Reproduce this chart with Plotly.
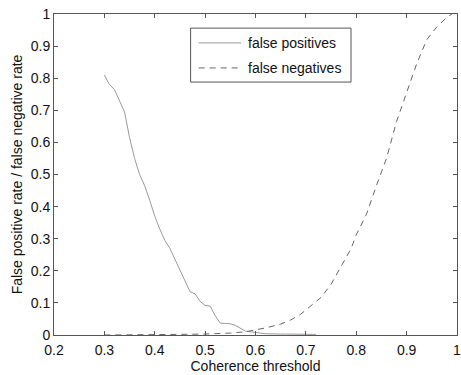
import plotly.graph_objects as go

fp_x = [0.30, 0.31, 0.32, 0.33, 0.34, 0.35, 0.36, 0.37, 0.38, 0.39,
        0.40, 0.41, 0.42, 0.43, 0.44, 0.45, 0.46, 0.47, 0.48, 0.49,
        0.50, 0.51, 0.52, 0.53, 0.54, 0.55, 0.56, 0.57, 0.58, 0.59,
        0.60, 0.61, 0.62, 0.63, 0.64, 0.65, 0.66, 0.67, 0.68, 0.69,
        0.70, 0.71, 0.72]
fp_y = [0.81, 0.78, 0.765, 0.73, 0.695, 0.615, 0.55, 0.50, 0.465, 0.42,
        0.37, 0.33, 0.295, 0.27, 0.235, 0.20, 0.165, 0.135, 0.128, 0.105,
        0.092, 0.09, 0.06, 0.037, 0.036, 0.035, 0.03, 0.02, 0.012, 0.01,
        0.009, 0.006, 0.004, 0.003, 0.003, 0.003, 0.003, 0.003, 0.003, 0.003,
        0.003, 0.002, 0.002]

fn_x = [0.30, 0.35, 0.40, 0.45, 0.50, 0.52, 0.55, 0.58, 0.60, 0.62,
        0.65, 0.67, 0.69, 0.71, 0.73, 0.75, 0.77, 0.79, 0.80, 0.82,
        0.84, 0.86, 0.88, 0.90, 0.92, 0.94, 0.96, 0.98, 0.99]
fn_y = [0.0, 0.0, 0.001, 0.002, 0.003, 0.004, 0.006, 0.01, 0.015, 0.022,
        0.034, 0.047, 0.065, 0.09, 0.117, 0.158, 0.215, 0.27, 0.312, 0.375,
        0.465, 0.55, 0.665, 0.755, 0.845, 0.92, 0.96, 0.99, 1.0]

x_ticks = [0.2, 0.3, 0.4, 0.5, 0.6, 0.7, 0.8, 0.9, 1.0]
x_labels = ["0.2", "0.3", "0.4", "0.5", "0.6", "0.7", "0.8", "0.9", "1"]
y_ticks = [0, 0.1, 0.2, 0.3, 0.4, 0.5, 0.6, 0.7, 0.8, 0.9, 1.0]
y_labels = ["0", "0.1", "0.2", "0.3", "0.4", "0.5", "0.6", "0.7", "0.8", "0.9", "1"]

series_names = ["false positives", "false negatives"]
series_colors = ["#9a9a9a", "#666666"]
series_dash = ["solid", "6px,5px"]

FAM = "Liberation Sans, Arial, sans-serif"
font = dict(family=FAM, size=14, color="#111111")

fig = go.Figure()
fig.add_trace(go.Scatter(x=fp_x, y=fp_y, mode="lines", name=series_names[0],
                         line=dict(color=series_colors[0], width=1, dash=series_dash[0])))
fig.add_trace(go.Scatter(x=fn_x, y=fn_y, mode="lines", name=series_names[1],
                         line=dict(color=series_colors[1], width=1, dash=series_dash[1])))

axis_common = dict(showgrid=False, zeroline=False, showline=True, linecolor="#555555",
                   linewidth=1, mirror="ticks", ticks="inside", ticklen=4,
                   tickcolor="#555555", tickfont=font)

# custom legend box (MATLAB style, long line samples)
shapes = [dict(type="rect", xref="paper", yref="paper", x0=0.339, x1=0.737,
               y0=0.788, y1=0.956, line=dict(color="#555555", width=1),
               fillcolor="white", layer="above")]
annotations = []
for i, yy in enumerate([0.910, 0.832]):
    shapes.append(dict(type="line", xref="paper", yref="paper", x0=0.359, x1=0.464,
                       y0=yy, y1=yy, layer="above",
                       line=dict(color=series_colors[i], width=1, dash=series_dash[i])))
    annotations.append(dict(xref="paper", yref="paper", x=0.477, y=yy, text=series_names[i],
                            showarrow=False, xanchor="left", yanchor="middle", font=font))

fig.update_layout(
    width=461, height=375,
    margin=dict(l=54, r=0, t=14, b=40),
    paper_bgcolor="white", plot_bgcolor="white",
    font=font,
    showlegend=False,
    shapes=shapes,
    annotations=annotations,
    xaxis=dict(range=[0.2, 1.0000001], tickvals=x_ticks, ticktext=x_labels,
               ticklabelstandoff=2, ticklabeloverflow="allow",
               title=dict(text="Coherence threshold", standoff=0, font=font),
               **axis_common),
    yaxis=dict(range=[0, 1.0], tickvals=y_ticks, ticktext=y_labels,
               title=dict(text="False positive rate / false negative rate", standoff=4, font=font),
               **axis_common),
)

fig.write_html("out.html")
